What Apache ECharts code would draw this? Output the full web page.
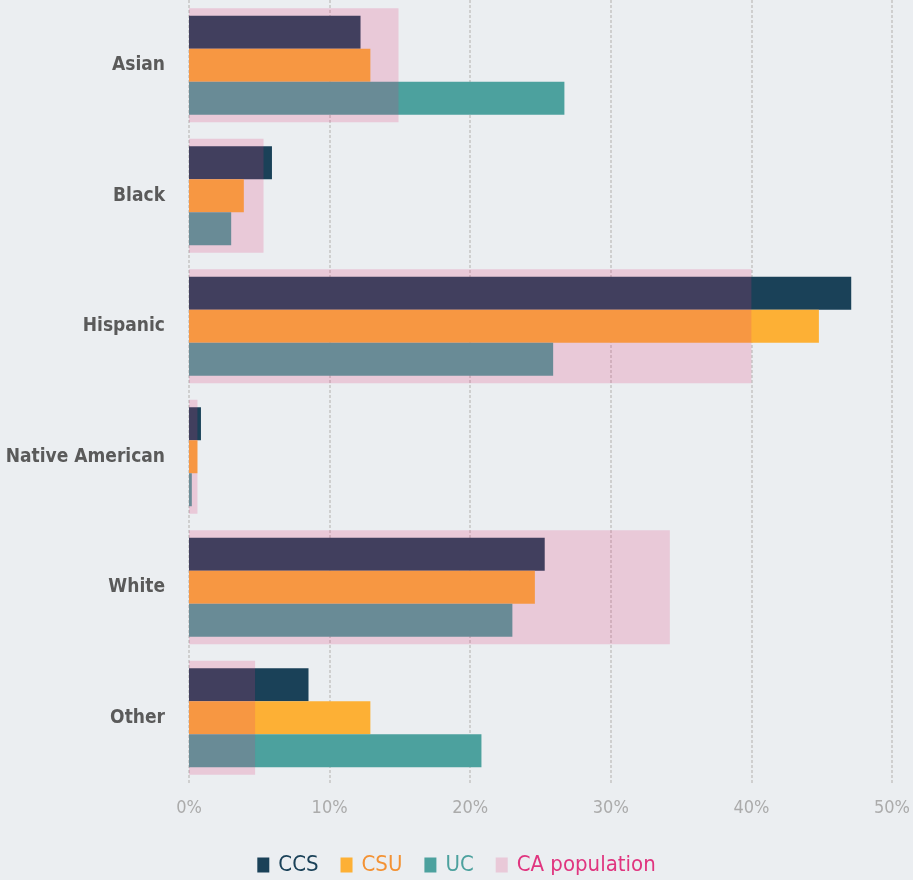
<!DOCTYPE html>
<html>
<head>
<meta charset="utf-8">
<script src="https://cdn.jsdelivr.net/npm/echarts@6/dist/echarts.min.js"></script>
<style>
  html, body { margin: 0; padding: 0; background: #ebeef1; }
  #chart { width: 913px; height: 880px; }
</style>
</head>
<body>
<div id="chart"></div>
<script>
// categories and values (percent)
const groups = ['Asian', 'Black', 'Hispanic', 'Native American', 'White', 'Other'];
const ccs = [12.2, 5.9, 47.1, 0.85, 25.3, 8.5];
const csu = [12.9, 3.9, 44.8, 0.6, 24.6, 12.9];
const uc = [26.7, 3.0, 25.9, 0.2, 23.0, 20.8];
const caPopulation = [14.9, 5.3, 40.0, 0.6, 34.2, 4.7];
const xTicks = [0, 10, 20, 30, 40, 50];

const font = '"DejaVu Sans Condensed", "Roboto", sans-serif';

const chart = echarts.init(document.getElementById('chart'));

chart.setOption({
  backgroundColor: '#ebeef1',
  animation: false,
  grid: { left: 189, right: 21, top: 0, bottom: 97, outerBoundsMode: 'none', containLabel: false },
  legend: {
    bottom: -1,
    left: 'center',
    itemWidth: 12,
    itemHeight: 15,
    itemGap: 22,
    icon: 'rect',
    textStyle: { fontFamily: font, fontSize: 22, padding: [0, 0, 0, 4] },
    data: [
      { name: 'CCS', textStyle: { color: '#1a4158' } },
      { name: 'CSU', textStyle: { color: '#f39234' } },
      { name: 'UC', textStyle: { color: '#4ca19e' } },
      { name: 'CA population', textStyle: { color: '#e0357f' } }
    ]
  },
  xAxis: {
    type: 'value',
    min: xTicks[0],
    max: xTicks[xTicks.length - 1],
    interval: 10,
    axisLine: { show: false },
    axisTick: { show: false },
    axisLabel: {
      formatter: '{value}%',
      color: '#ababab',
      fontFamily: font,
      fontSize: 18,
      margin: 16
    },
    splitLine: { lineStyle: { color: '#cfcfcf', width: 2, type: [3, 2] } }
  },
  yAxis: [
    {
      type: 'category',
      data: groups,
      inverse: true,
      axisLine: { show: false },
      axisTick: { show: false },
      axisLabel: {
        color: '#5a5a5a',
        fontFamily: font,
        fontSize: 19,
        fontWeight: 'bold',
        margin: 24
      }
    },
    {
      type: 'category',
      data: groups,
      inverse: true,
      show: false
    }
  ],
  series: [
    {
      name: 'CCS',
      type: 'bar',
      data: ccs,
      barWidth: 33,
      barGap: '0%',
      itemStyle: { color: '#1a4158' }
    },
    {
      name: 'CSU',
      type: 'bar',
      data: csu,
      barWidth: 33,
      barGap: '0%',
      itemStyle: { color: '#fdb035' }
    },
    {
      name: 'UC',
      type: 'bar',
      data: uc,
      barWidth: 33,
      barGap: '0%',
      itemStyle: { color: '#4ca19e' }
    },
    {
      name: 'CA population',
      type: 'bar',
      yAxisIndex: 1,
      data: caPopulation,
      barWidth: 114,
      z: 3,
      itemStyle: { color: 'rgba(224, 55, 122, 0.2)' }
    }
  ]
});
</script>
</body>
</html>
